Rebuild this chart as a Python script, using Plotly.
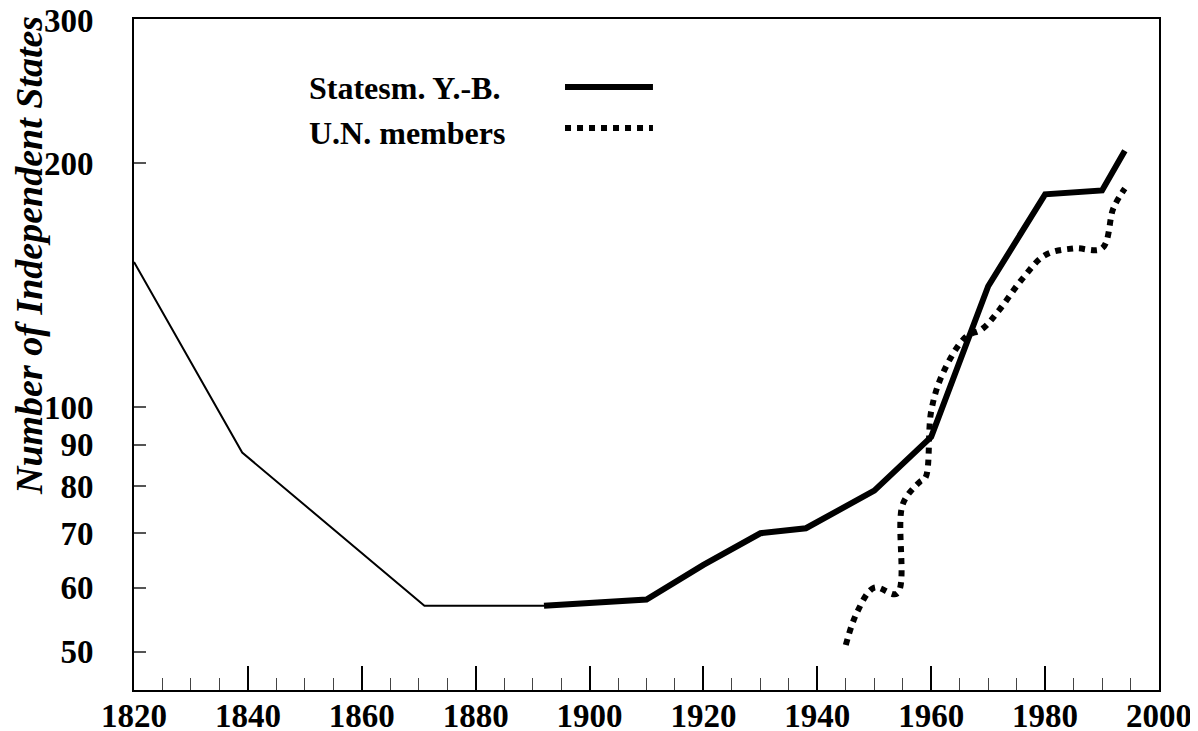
import plotly.graph_objects as go

# Statesman's Year-Book: early (thin) segment and later (thick) segment
early_years = [1820, 1839, 1871, 1892]
early_states = [151, 88, 57, 57]

syb_years = [1892, 1910, 1920, 1930, 1938, 1950, 1960, 1970, 1980, 1990, 1994]
syb_states = [57, 58, 64, 70, 71, 79, 92, 141, 183, 185, 207]

# U.N. members
un_years = [1945, 1947, 1950, 1954, 1955, 1958, 1959, 1960, 1962, 1966, 1969, 1972,
            1976, 1980, 1985, 1990, 1992, 1994]
un_states = [51, 56, 60, 59, 76, 81, 82, 99, 110, 122, 125, 132,
             144, 154, 157, 157, 176, 186]

x_ticks = [1820, 1840, 1860, 1880, 1900, 1920, 1940, 1960, 1980, 2000]
y_ticks = [50, 60, 70, 80, 90, 100, 200, 300]

legend_labels = ["Statesm. Y.-B.", "U.N. members"]

FONT = "Liberation Serif"

fig = go.Figure()
fig.add_trace(go.Scatter(x=early_years, y=early_states, mode="lines",
                         line=dict(color="black", width=2), showlegend=False))
fig.add_trace(go.Scatter(x=syb_years, y=syb_states, mode="lines",
                         line=dict(color="black", width=6), showlegend=False))
fig.add_trace(go.Scatter(x=un_years, y=un_states, mode="lines",
                         line=dict(color="black", width=6, dash="dot", shape="spline", smoothing=1),
                         showlegend=False))

# manual legend (text left, sample line right)
fig.add_annotation(x=0.1688, y=0.8972, xref="paper", yref="paper", text=legend_labels[0],
                   showarrow=False, xanchor="left", yanchor="middle",
                   font=dict(family=FONT, size=32, color="black", weight="bold"))
fig.add_annotation(x=0.1688, y=0.8301, xref="paper", yref="paper", text=legend_labels[1],
                   showarrow=False, xanchor="left", yanchor="middle",
                   font=dict(family=FONT, size=32, color="black", weight="bold"))
fig.add_shape(type="line", xref="paper", yref="paper", x0=0.4205, x1=0.5063,
              y0=0.8987, y1=0.8987, line=dict(color="black", width=6))
fig.add_shape(type="line", xref="paper", yref="paper", x0=0.4205, x1=0.5063,
              y0=0.8376, y1=0.8376, line=dict(color="black", width=6, dash="dot"))

# y axis title
fig.add_annotation(x=-0.1024, y=0.6468, xref="paper", yref="paper",
                   text="Number of Independent States", textangle=-90, showarrow=False,
                   xanchor="center", yanchor="middle",
                   font=dict(family=FONT, size=38, color="black", weight="bold", style="italic"))

fig.update_layout(
    width=1190, height=723,
    margin=dict(l=126, r=39, t=11, b=41, autoexpand=False),
    paper_bgcolor="white", plot_bgcolor="white",
    showlegend=False,
    font=dict(family=FONT, size=32, color="black", weight="bold"),
)
fig.update_xaxes(
    range=[1820, 2000], tickvals=x_ticks, ticks="inside", ticklen=24, tickwidth=1.5,
    tickcolor="black", showline=True, linecolor="black", linewidth=2, mirror=True,
    showgrid=False, zeroline=False, automargin=False, ticklabelstandoff=-5,
    ticklabeloverflow="allow",
    tickfont=dict(family=FONT, size=33, color="black", weight="bold"),
    minor=dict(dtick=5, ticks="inside", ticklen=12, tickwidth=1.2, tickcolor="#444", showgrid=False),
)
fig.update_yaxes(
    type="log", range=[1.6521, 2.4783], tickvals=y_ticks, ticktext=[str(v) for v in y_ticks],
    ticks="inside", ticklen=12, tickwidth=1.5, tickcolor="#555",
    showline=True, linecolor="black", linewidth=2, mirror=True,
    showgrid=False, zeroline=False, ticklabelstandoff=32, automargin=False,
    ticklabeloverflow="allow",
    tickfont=dict(family=FONT, size=33, color="black", weight="bold"),
)

fig.write_html("out.html")
